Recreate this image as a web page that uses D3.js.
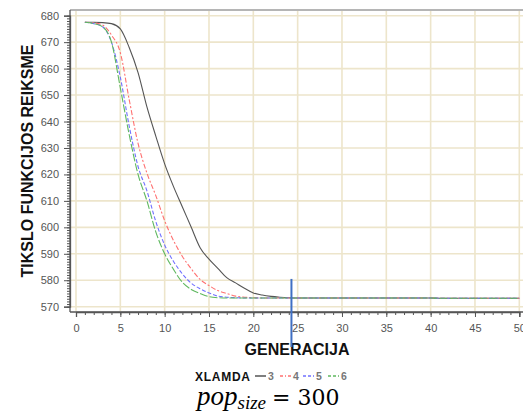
<!DOCTYPE html>
<html>
<head>
<meta charset="utf-8">
<script src="https://cdn.jsdelivr.net/npm/d3@7"></script>
<style>
  body { margin: 0; background: #fff; }
  svg { display: block; }
</style>
</head>
<body>
<div id="chart"></div>
<script>
// data (generation 1..50)
var generations = d3.range(1, 51);
var xlamda = ["3", "4", "5", "6"];
var tail = function(n, v) { return d3.range(n).map(function(){ return v; }); };
var s3 = [677.5, 677.5, 677.4, 677, 675, 668, 658.5, 645.5, 634.5, 624,
          615.4, 607.7, 600, 592.3, 588, 584.5, 581, 579, 577, 575.2,
          574.4, 573.9, 573.6, 573.4].concat(tail(16, 573.3), tail(10, 573.2));
var s4 = [677.5, 677.3, 676.5, 672.7, 666, 648.3, 631.7, 620.5, 612, 602.5,
          595, 589, 584.3, 580.3, 578, 576.1, 575, 574, 573.6, 573.4]
          .concat(tail(20, 573.3), tail(10, 573.2));
var s5 = [677.5, 677, 675.8, 670, 656.7, 638.3, 623, 613.8, 602.2, 593.3,
          587.1, 582.4, 578.9, 576.8, 575.2, 574, 573.6, 573.4]
          .concat(tail(22, 573.3), tail(10, 573.2));
var s6 = [677.5, 677, 675.8, 670, 652.7, 635, 620, 610, 598.3, 590,
          584.1, 579.2, 576.5, 575, 573.8, 573.4]
          .concat(tail(24, 573.3), tail(10, 573.2));
var seriesValues = [s3, s4, s5, s6];
var xTicks = d3.range(0, 51, 5);
var yTicks = d3.range(570, 681, 10);
var markerGen = 24.3;

var colors = ["#555555", "#ff7070", "#7070ff", "#5fb85f"];
var dashes = [null, "5,2,2,2", "4,2", "8,2"];

var width = 523, height = 412;
var svg = d3.select("#chart").append("svg")
            .attr("width", width)
            .attr("height", height);

var x = d3.scaleLinear().domain([0, 50]).range([76, 519.3]);
var y = d3.scaleLinear().domain([570, 680]).range([306.7, 15.7]);
var plotLeft = 70, plotTop = 10, plotBottom = 311;

// grid
svg.append("g").selectAll("line").data(yTicks).enter().append("line")
   .attr("x1", plotLeft).attr("x2", width)
   .attr("y1", function(d){ return y(d); }).attr("y2", function(d){ return y(d); })
   .attr("stroke", "#ede5cb").attr("stroke-width", 1.6);
svg.append("g").selectAll("line").data(xTicks).enter().append("line")
   .attr("y1", plotTop).attr("y2", plotBottom)
   .attr("x1", function(d){ return x(d); }).attr("x2", function(d){ return x(d); })
   .attr("stroke", "#ede5cb").attr("stroke-width", 1.6);

// top frame
svg.append("line").attr("x1", plotLeft).attr("x2", width)
   .attr("y1", plotTop).attr("y2", plotTop)
   .attr("stroke", "#b5b5b5").attr("stroke-width", 2);

// lines
var line = d3.line()
   .x(function(d, i){ return x(generations[i]); })
   .y(function(d){ return y(d); })
   .curve(d3.curveMonotoneX);
svg.append("g").selectAll("path").data(seriesValues).enter().append("path")
   .attr("d", line)
   .attr("fill", "none")
   .attr("stroke", function(d, i){ return colors[i]; })
   .attr("stroke-width", 1.1)
   .attr("stroke-dasharray", function(d, i){ return dashes[i]; });

// axes
var yAxis = svg.append("g").attr("transform", "translate(" + plotLeft + ",0)");
yAxis.call(d3.axisLeft(y).tickValues(d3.range(570, 681, 1)).tickSize(3).tickFormat(""));
yAxis.call(function(g){
  g.append("g").call(d3.axisLeft(y).tickValues(yTicks).tickSize(6).tickPadding(5));
});
yAxis.select(".domain").attr("d", "M0," + plotTop + "V" + (plotBottom + 1));

var xAxis = svg.append("g").attr("transform", "translate(0," + (plotBottom + 1) + ")");
xAxis.call(d3.axisBottom(x).tickValues(d3.range(0, 51, 1)).tickSize(3).tickFormat(""));
xAxis.call(function(g){
  g.append("g").call(d3.axisBottom(x).tickValues(xTicks).tickSize(5).tickPadding(7));
});
xAxis.select(".domain").attr("d", "M" + plotLeft + ",0H" + width);

svg.selectAll(".domain").attr("stroke", "#555").attr("stroke-width", 1.3);
svg.selectAll(".tick line").attr("stroke", "#555");
svg.selectAll(".tick text").attr("fill", "#555")
   .attr("font-family", "Liberation Sans, Arial, sans-serif")
   .attr("font-size", "11px");
svg.selectAll("g > g > g > g .domain").remove();

// axis titles
svg.append("text")
   .attr("transform", "translate(32.5,161) rotate(-90)")
   .attr("text-anchor", "middle")
   .attr("font-family", "Liberation Sans, Arial, sans-serif")
   .attr("font-weight", "bold")
   .attr("font-size", "16px")
   .attr("fill", "#111")
   .text("TIKSLO FUNKCIJOS REIKSME");
svg.append("text")
   .attr("x", 297).attr("y", 355)
   .attr("text-anchor", "middle")
   .attr("font-family", "Liberation Sans, Arial, sans-serif")
   .attr("font-weight", "bold")
   .attr("font-size", "16px")
   .attr("fill", "#111")
   .text("GENERACIJA");

// blue marker
svg.append("line")
   .attr("x1", x(markerGen)).attr("x2", x(markerGen))
   .attr("y1", y(580.5)).attr("y2", 347)
   .attr("stroke", "#3f6fc4").attr("stroke-width", 2);

// legend
var legend = svg.append("g").attr("font-family", "Liberation Sans, Arial, sans-serif");
legend.append("text").attr("x", 195).attr("y", 380.5)
   .attr("font-weight", "bold").attr("font-size", "12px").attr("fill", "#111")
   .attr("textLength", 55)
   .text("XLAMDA");
var lx = [255, 280, 303, 328];
xlamda.forEach(function(v, i){
  legend.append("line")
     .attr("x1", lx[i]).attr("x2", lx[i] + 11)
     .attr("y1", 376).attr("y2", 376)
     .attr("stroke", colors[i]).attr("stroke-width", 1.5)
     .attr("stroke-dasharray", i === 0 ? null : (i === 1 ? "3,2,1,2" : "3,2"));
  legend.append("text").attr("x", lx[i] + 13).attr("y", 380)
     .attr("font-size", "10.5px").attr("font-weight", "bold").attr("fill", "#777").text(v);
});

// caption
var cap = svg.append("text").attr("x", 197).attr("y", 405)
   .attr("fill", "#000");
cap.append("tspan").attr("font-family", "Liberation Serif, serif")
   .attr("font-style", "italic").attr("font-size", "27px").text("pop");
cap.append("tspan").attr("font-family", "Liberation Serif, serif")
   .attr("font-style", "italic").attr("font-size", "19px").attr("dy", 4).text("size");
cap.append("tspan").attr("font-family", "'DejaVu Serif', serif")
   .attr("font-size", "22px").attr("dy", -4).attr("dx", 6).text("= 300");
</script>
</body>
</html>
